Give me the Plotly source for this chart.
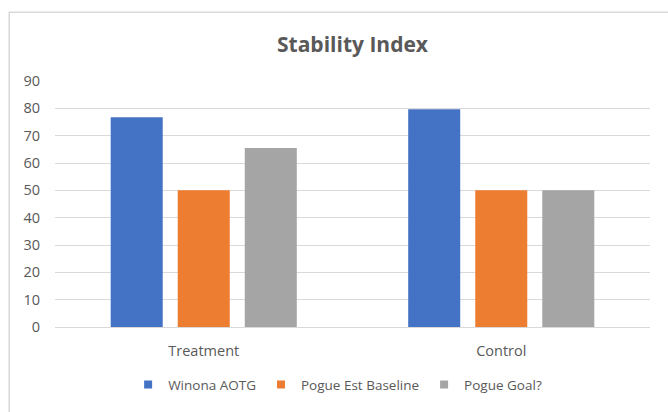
import plotly.graph_objects as go

categories = ["Treatment", "Control"]
series_names = ["Winona AOTG", "Pogue Est Baseline", "Pogue Goal?"]
winona_aotg = [76.7, 79.7]
pogue_baseline = [50, 50]
pogue_goal = [65.5, 50]
y_ticks = [0, 10, 20, 30, 40, 50, 60, 70, 80, 90]

colors = ["#4472C4", "#ED7D31", "#A5A5A5"]
FONT = "'Open Sans', sans-serif"
TEXT = "#595959"

fig = go.Figure()
for name, vals, col in zip(series_names, [winona_aotg, pogue_baseline, pogue_goal], colors):
    fig.add_trace(go.Bar(x=categories, y=vals, name=name, showlegend=False,
                         marker=dict(color=col, line=dict(width=0))))
# legend entries with small square keys
for name, col in zip(series_names, colors):
    fig.add_trace(go.Scatter(x=[None], y=[None], mode="markers", name=name,
                             marker=dict(symbol="square", size=8, color=col)))

# chart frame around the whole area
fig.add_shape(type="rect", xref="paper", yref="paper",
              x0=-0.077, x1=1.04, y0=-0.4, y1=1.279,
              line=dict(color="#D9D9D9", width=1.5), fillcolor="rgba(0,0,0,0)", layer="below")

fig.update_layout(
    width=668, height=412,
    margin=dict(l=55, r=18, t=81, b=82),
    paper_bgcolor="white", plot_bgcolor="white",
    barmode="group", bargap=0.324, bargroupgap=0.224,
    title=dict(text="<b>Stability Index</b>", x=0.5, xref="paper", xanchor="center", y=0.892, yanchor="middle",
               font=dict(family=FONT, size=21, color=TEXT)),
    font=dict(family=FONT, color=TEXT, size=14),
    xaxis=dict(showgrid=False, showline=False, ticks="", ticklabelstandoff=13,
               tickfont=dict(size=14.5, color=TEXT)),
    yaxis=dict(range=[0, 90], tickvals=y_ticks, showgrid=True, gridcolor="#D9D9D9", gridwidth=1,
               zeroline=True, zerolinecolor="#D9D9D9", zerolinewidth=1, ticks="",
               ticklabelstandoff=14, tickfont=dict(size=14.5, color=TEXT)),
    legend=dict(orientation="h", x=0.475, xanchor="center", y=-0.235, yanchor="middle",
                font=dict(size=13.5, color=TEXT), itemwidth=30, traceorder="normal"),
    showlegend=True,
)

fig.write_html("out.html")
